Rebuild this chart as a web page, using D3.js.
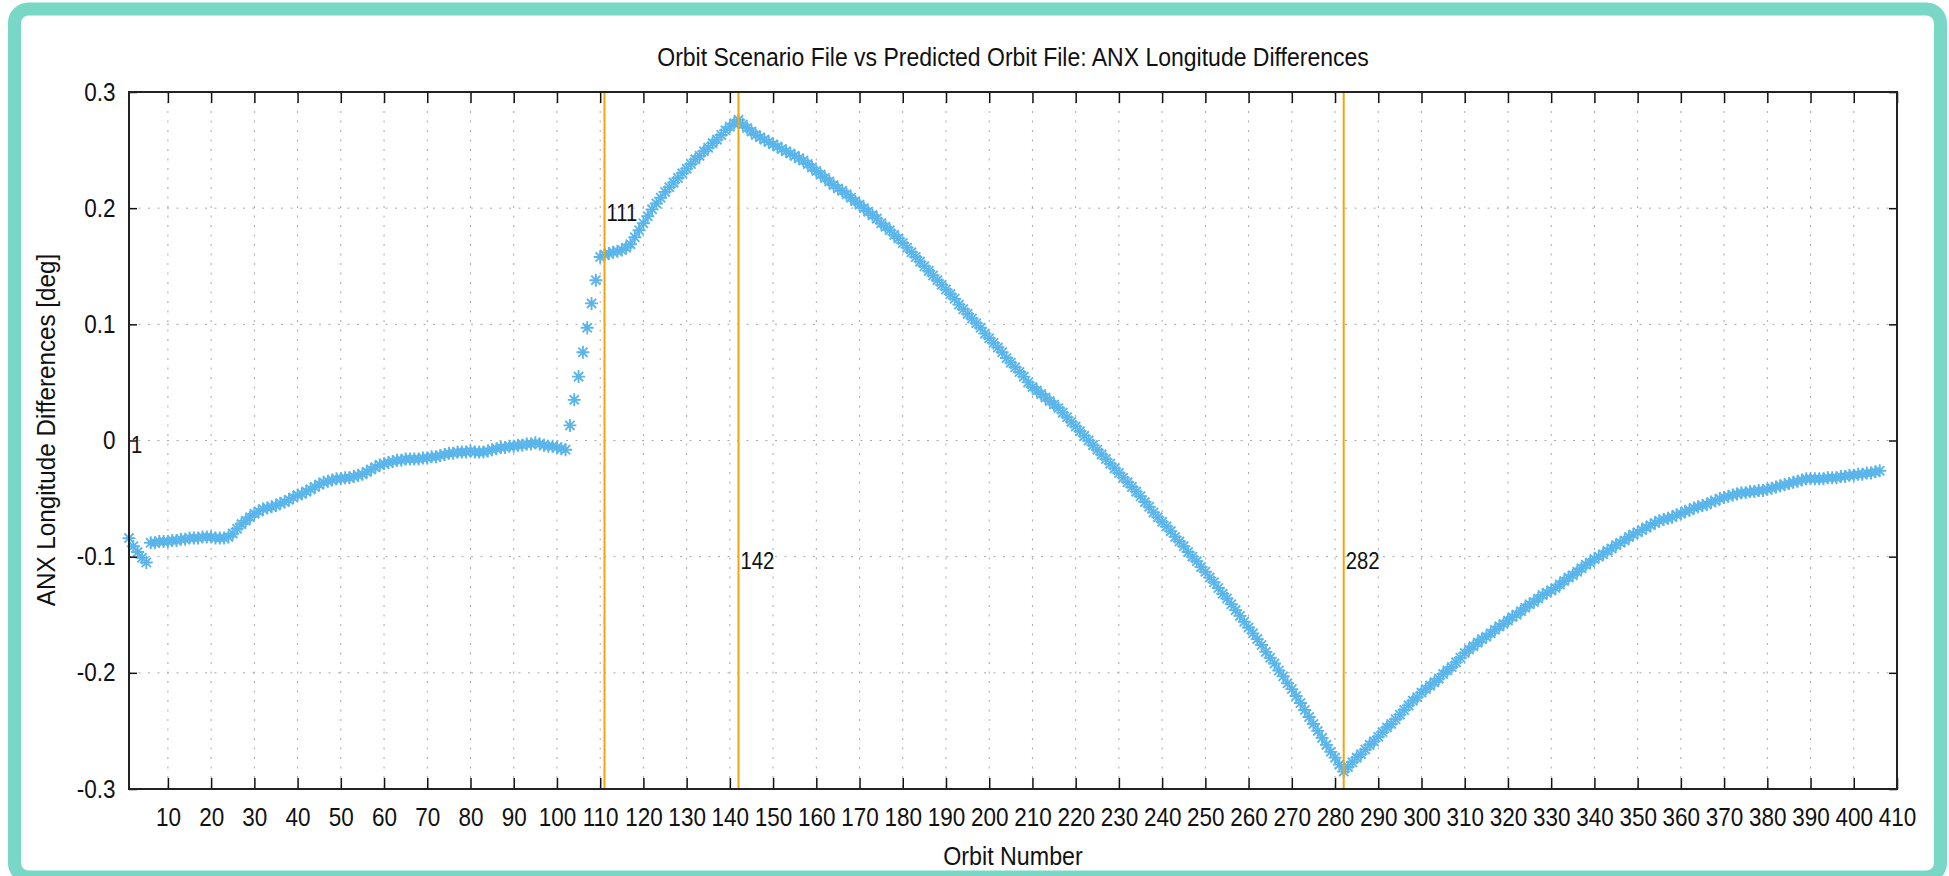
<!DOCTYPE html>
<html>
<head>
<meta charset="utf-8">
<script src="https://cdn.jsdelivr.net/npm/d3@7"></script>
<style>
  html, body { margin: 0; padding: 0; background: #fff; }
  svg text { font-family: "Liberation Sans", Arial, Helvetica, sans-serif; fill: #111; }
</style>
</head>
<body>
<div id="chart"></div>
<script>
// orbit numbers of the series start at 1, one value per orbit
const firstOrbit = 1
const anxDiff = [
  -0.084, -0.091, -0.096, -0.101, -0.105, -0.088, -0.088, -0.087, -0.087, -0.087,  // 1-10
  -0.086, -0.086, -0.085, -0.085, -0.084, -0.084, -0.084, -0.083, -0.083, -0.083,  // 11-20
  -0.084, -0.084, -0.084, -0.083, -0.080, -0.076, -0.072, -0.069, -0.066, -0.063,  // 21-30
  -0.061, -0.059, -0.058, -0.057, -0.056, -0.054, -0.053, -0.051, -0.049, -0.047,  // 31-40
  -0.046, -0.044, -0.042, -0.040, -0.038, -0.036, -0.035, -0.034, -0.033, -0.033,  // 41-50
  -0.032, -0.032, -0.031, -0.030, -0.029, -0.027, -0.025, -0.023, -0.021, -0.020,  // 51-60
  -0.019, -0.018, -0.017, -0.017, -0.016, -0.016, -0.016, -0.016, -0.015, -0.015,  // 61-70
  -0.014, -0.014, -0.013, -0.012, -0.011, -0.011, -0.010, -0.010, -0.010, -0.009,  // 71-80
  -0.010, -0.010, -0.010, -0.009, -0.008, -0.007, -0.006, -0.006, -0.005, -0.005,  // 81-90
  -0.004, -0.004, -0.003, -0.003, -0.002, -0.003, -0.004, -0.005, -0.005, -0.006,  // 91-100
  -0.007, -0.008,  0.013,  0.035,  0.055,  0.076,  0.097,  0.118,  0.138,  0.158,  // 101-110
   0.160,  0.161,  0.162,  0.163,  0.164,  0.166,  0.169,  0.175,  0.181,  0.187,  // 111-120
   0.193,  0.199,  0.204,  0.209,  0.214,  0.218,  0.222,  0.226,  0.230,  0.234,  // 121-130
   0.238,  0.242,  0.245,  0.249,  0.252,  0.256,  0.259,  0.263,  0.267,  0.270,  // 131-140
   0.273,  0.276,  0.272,  0.269,  0.266,  0.263,  0.261,  0.259,  0.257,  0.255,  // 141-150
   0.253,  0.251,  0.249,  0.247,  0.245,  0.243,  0.241,  0.238,  0.235,  0.232,  // 151-160
   0.229,  0.226,  0.223,  0.220,  0.217,  0.215,  0.212,  0.209,  0.206,  0.203,  // 161-170
   0.200,  0.197,  0.194,  0.191,  0.187,  0.184,  0.181,  0.177,  0.174,  0.170,  // 171-180
   0.166,  0.162,  0.158,  0.154,  0.150,  0.146,  0.142,  0.138,  0.134,  0.130,  // 181-190
   0.126,  0.122,  0.117,  0.113,  0.109,  0.105,  0.101,  0.097,  0.092,  0.088,  // 191-200
   0.084,  0.080,  0.076,  0.071,  0.067,  0.063,  0.059,  0.055,  0.050,  0.046,  // 201-210
   0.043,  0.040,  0.037,  0.034,  0.031,  0.028,  0.024,  0.020,  0.016,  0.012,  // 211-220
   0.008,  0.004,  0.000, -0.004, -0.008, -0.012, -0.016, -0.020, -0.024, -0.028,  // 221-230
  -0.032, -0.036, -0.040, -0.044, -0.048, -0.053, -0.057, -0.062, -0.066, -0.070,  // 231-240
  -0.074, -0.078, -0.083, -0.087, -0.091, -0.096, -0.100, -0.104, -0.109, -0.113,  // 241-250
  -0.118, -0.122, -0.127, -0.132, -0.136, -0.141, -0.146, -0.151, -0.156, -0.161,  // 251-260
  -0.166, -0.171, -0.176, -0.182, -0.187, -0.192, -0.198, -0.203, -0.209, -0.214,  // 261-270
  -0.220, -0.226, -0.232, -0.238, -0.244, -0.250, -0.256, -0.262, -0.268, -0.273,  // 271-280
  -0.279, -0.285, -0.281, -0.277, -0.273, -0.270, -0.266, -0.262, -0.259, -0.255,  // 281-290
  -0.251, -0.247, -0.244, -0.240, -0.236, -0.232, -0.228, -0.224, -0.221, -0.217,  // 291-300
  -0.214, -0.211, -0.208, -0.205, -0.201, -0.198, -0.195, -0.191, -0.187, -0.183,  // 301-310
  -0.180, -0.177, -0.174, -0.171, -0.169, -0.166, -0.163, -0.160, -0.158, -0.155,  // 311-320
  -0.152, -0.150, -0.147, -0.144, -0.141, -0.139, -0.136, -0.133, -0.131, -0.129,  // 321-330
  -0.127, -0.124, -0.121, -0.118, -0.116, -0.113, -0.110, -0.107, -0.105, -0.102,  // 331-340
  -0.100, -0.098, -0.095, -0.093, -0.090, -0.088, -0.086, -0.083, -0.081, -0.079,  // 341-350
  -0.077, -0.075, -0.073, -0.071, -0.069, -0.068, -0.067, -0.066, -0.064, -0.063,  // 351-360
  -0.061, -0.060, -0.058, -0.057, -0.056, -0.055, -0.053, -0.052, -0.050, -0.049,  // 361-370
  -0.048, -0.047, -0.046, -0.045, -0.045, -0.044, -0.044, -0.043, -0.043, -0.042,  // 371-380
  -0.041, -0.040, -0.039, -0.038, -0.037, -0.036, -0.035, -0.034, -0.033, -0.033,  // 381-390
  -0.033, -0.033, -0.033, -0.032, -0.032, -0.032, -0.031, -0.031, -0.030, -0.030,  // 391-400
  -0.029, -0.029, -0.028, -0.028, -0.027, -0.026                                     // 401-406
]

// orange marker lines and where their labels sit
const eventOrbits = [1, 111, 142, 282]
const eventLabelY = [0, 0.2, -0.1, -0.1]

const xTicks = [10, 20, 30, 40, 50, 60, 70, 80, 90, 100, 110, 120, 130, 140, 150, 160, 170, 180, 190, 200,
                210, 220, 230, 240, 250, 260, 270, 280, 290, 300, 310, 320, 330, 340, 350, 360, 370, 380, 390, 400, 410]
const yTicks = [-0.3, -0.2, -0.1, 0, 0.1, 0.2, 0.3]
const yTickLabels = ["-0.3", "-0.2", "-0.1", "0", "0.1", "0.2", "0.3"]

const titleText = "Orbit Scenario File vs Predicted Orbit File: ANX Longitude Differences"
const xLabelText = "Orbit Number"
const yLabelText = "ANX Longitude Differences [deg]"

function OrbitChart(div) {
    const width = 1949
    const height = 876
    const margins = { top: 92, right: 52, bottom: 87, left: 129 }
    const innerW = width - margins.left - margins.right
    const innerH = height - margins.top - margins.bottom
    const fontSize = 25
    // the original font is a narrow Helvetica, so squeeze Liberation Sans a bit
    const squeeze = 0.9

    const svg = d3.select('#' + div).append('svg')
        .attr('width', width)
        .attr('height', height)

    // teal rounded frame round the whole picture
    svg.append('rect')
        .attr('x', 14.5).attr('y', 9)
        .attr('width', 1926).attr('height', 868)
        .attr('rx', 14).attr('ry', 14)
        .attr('fill', '#fff')
        .attr('stroke', '#78d8c5')
        .attr('stroke-width', 13)

    const xScale = d3.scaleLinear().domain([1, 410]).range([0, innerW])
    const yScale = d3.scaleLinear().domain([-0.3, 0.3]).range([innerH, 0])

    const g = svg.append('g')
        .attr('transform', 'translate(' + margins.left + ',' + margins.top + ')')

    // dotted grid
    g.append('g').attr('class', 'grid-x')
        .selectAll('line')
        .data(xTicks.filter(d => d < 410))
        .join('line')
        .attr('x1', d => xScale(d)).attr('x2', d => xScale(d))
        .attr('y1', 0).attr('y2', innerH)
        .attr('stroke', '#a8a8a8').attr('stroke-width', 1)
        .attr('stroke-dasharray', '2,7.5')

    g.append('g').attr('class', 'grid-y')
        .selectAll('line')
        .data(yTicks.filter(d => d > -0.3 && d < 0.3))
        .join('line')
        .attr('x1', 0).attr('x2', innerW)
        .attr('y1', d => yScale(d)).attr('y2', d => yScale(d))
        .attr('stroke', '#a8a8a8').attr('stroke-width', 1)
        .attr('stroke-dasharray', '2,7.5')

    // series, drawn as asterisk markers
    const points = anxDiff.map((v, i) => ({ x: firstOrbit + i, y: v }))
    const star = 'M-6.5,0L6.5,0M0,-6.5L0,6.5M-4.6,-4.6L4.6,4.6M-4.6,4.6L4.6,-4.6'
    g.append('g').attr('class', 'series')
        .selectAll('path')
        .data(points)
        .join('path')
        .attr('transform', d => 'translate(' + xScale(d.x) + ',' + yScale(d.y) + ')')
        .attr('d', star)
        .attr('fill', 'none')
        .attr('stroke', '#5ab5ea')
        .attr('stroke-width', 1.9)

    // orange event lines
    g.append('g').attr('class', 'events')
        .selectAll('line')
        .data(eventOrbits)
        .join('line')
        .attr('x1', d => xScale(d)).attr('x2', d => xScale(d))
        .attr('y1', 0).attr('y2', innerH)
        .attr('stroke', '#f2a40c').attr('stroke-width', 2)

    // axes: inward ticks on every side
    g.append('g').attr('class', 'x-axis')
        .attr('transform', 'translate(0,' + innerH + ')')
        .call(d3.axisBottom(xScale).tickValues(xTicks).tickSizeInner(-11).tickSizeOuter(0).tickPadding(19))
        .call(a => a.select('.domain').remove())
    g.append('g').attr('class', 'x-axis-top')
        .call(d3.axisTop(xScale).tickValues(xTicks).tickSizeInner(-11).tickSizeOuter(0).tickFormat(''))
        .call(a => a.select('.domain').remove())
    g.append('g').attr('class', 'y-axis')
        .call(d3.axisLeft(yScale).tickValues(yTicks).tickSizeInner(-8).tickSizeOuter(0).tickPadding(15)
            .tickFormat((d, i) => yTickLabels[i]))
        .call(a => a.select('.domain').remove())
    g.append('g').attr('class', 'y-axis-right')
        .attr('transform', 'translate(' + innerW + ',0)')
        .call(d3.axisRight(yScale).tickValues(yTicks).tickSizeInner(-8).tickSizeOuter(0).tickFormat(''))
        .call(a => a.select('.domain').remove())

    g.selectAll('.tick line').attr('stroke', '#111').attr('stroke-width', 1.5)
    g.selectAll('.tick text')
        .style('font-family', '"Liberation Sans", Arial, Helvetica, sans-serif')
        .style('font-size', fontSize + 'px')
        .attr('fill', '#111')
        .attr('transform', 'scale(' + squeeze + ',1)')

    g.append('rect')
        .attr('x', 0).attr('y', 0)
        .attr('width', innerW).attr('height', innerH)
        .attr('fill', 'none')
        .attr('stroke', '#222').attr('stroke-width', 2)

    // event labels
    g.append('g').attr('class', 'event-labels')
        .selectAll('text')
        .data(eventOrbits)
        .join('text')
        .attr('transform', (d, i) => 'translate(' + (xScale(d) + 2) + ',' + yScale(eventLabelY[i]) + ') scale(0.88,1)')
        .attr('dy', '0.55em')
        .style('font-size', '23px')
        .text(d => d)

    // titles
    svg.append('text')
        .attr('transform', 'translate(' + (margins.left + innerW / 2) + ',66) scale(0.92,1)')
        .attr('text-anchor', 'middle')
        .style('font-size', fontSize + 'px')
        .text(titleText)

    svg.append('text')
        .attr('transform', 'translate(' + (margins.left + innerW / 2) + ',865) scale(0.93,1)')
        .attr('text-anchor', 'middle')
        .style('font-size', fontSize + 'px')
        .text(xLabelText)

    svg.append('text')
        .attr('transform', 'translate(55,430) rotate(-90) scale(0.97,1)')
        .attr('text-anchor', 'middle')
        .style('font-size', fontSize + 'px')
        .text(yLabelText)
}

OrbitChart('chart')
</script>
</body>
</html>
